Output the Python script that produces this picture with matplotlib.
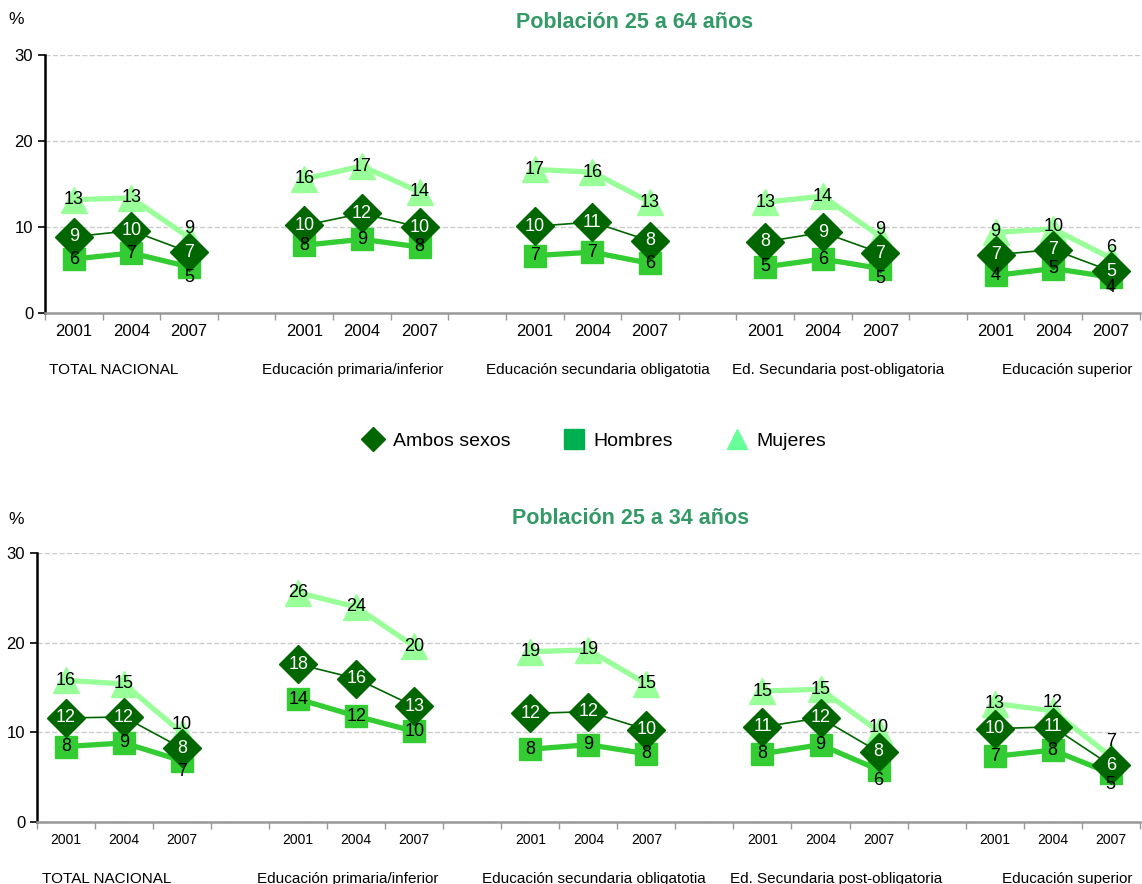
import numpy as np
import matplotlib.pyplot as plt
from matplotlib.lines import Line2D

plt.rcParams['font.family'] = ['Liberation Sans', 'DejaVu Sans']

# data
years = ['2001', '2004', '2007']
grupos = ['TOTAL NACIONAL', 'Educación primaria/inferior', 'Educación secundaria obligatotia',
          'Ed. Secundaria post-obligatoria', 'Educación superior']

# Población 25 a 64 años
ambos_64 = [8.9, 9.6, 7.1, 10.2, 11.6, 10.0, 10.1, 10.6, 8.4, 8.3, 9.4, 7.0, 6.8, 7.4, 4.9]
hombres_64 = [6.3, 7.0, 5.4, 7.9, 8.6, 7.7, 6.7, 7.1, 5.8, 5.4, 6.3, 5.2, 4.4, 5.2, 4.2]
mujeres_64 = [13.2, 13.4, 8.8, 15.6, 17.1, 14.1, 16.7, 16.4, 12.9, 12.9, 13.6, 8.9, 9.4, 9.8, 6.4]

# Población 25 a 34 años
ambos_34 = [11.6, 11.7, 8.2, 17.6, 16.0, 12.9, 12.1, 12.3, 10.3, 10.6, 11.6, 7.8, 10.4, 10.6, 6.3]
hombres_34 = [8.4, 8.8, 6.8, 13.7, 11.8, 10.1, 8.1, 8.6, 7.6, 7.6, 8.6, 5.8, 7.3, 8.0, 5.4]
mujeres_34 = [15.8, 15.4, 9.9, 25.6, 24.0, 19.6, 19.0, 19.2, 15.4, 14.6, 14.8, 10.1, 13.2, 12.4, 7.3]

c_ambos = '#006600'
c_hombres = '#33cc33'
c_mujeres = '#99ff99'


def draw_panel(ax, ambos, hombres, mujeres, year_size):
    n = len(years)
    for g in range(len(grupos)):
        xs = [g * (n + 1) + j for j in range(n)]
        sl = slice(g * n, g * n + n)
        ax.plot(xs, mujeres[sl], color=c_mujeres, lw=3.8, marker='^', ms=19,
                mec=c_mujeres, zorder=2)
        ax.plot(xs, hombres[sl], color=c_hombres, lw=3.8, marker='s', ms=16.5,
                mec=c_hombres, zorder=3)
        ax.plot(xs, ambos[sl], color=c_ambos, lw=1.2, marker='D', ms=19,
                mec=c_ambos, zorder=4)
        for x, a, h, m in zip(xs, ambos[sl], hombres[sl], mujeres[sl]):
            ax.text(x, a, f'{a:.0f}', color='white', fontsize=13, ha='center',
                    va='center', zorder=6)
            dy = -1.2 if a - h < 2.05 else 0
            ax.text(x, h + dy, f'{h:.0f}', color='black', fontsize=13, ha='center',
                    va='center', zorder=6)
            dy = max(0.0, 2.7 - (m - a))
            ax.text(x, m + dy, f'{m:.0f}', color='black', fontsize=13, ha='center',
                    va='center', zorder=6)

    total = len(grupos) * (n + 1) - 1
    ax.set_xlim(-0.5, total - 0.5)
    ax.set_ylim(0, 30)
    ax.set_yticks([0, 10, 20, 30])
    ax.tick_params(axis='y', labelsize=12, length=5, width=1.2, color='black')
    ax.set_xticks(np.arange(-0.5, total, 1.0))
    ax.set_xticklabels([])
    ax.tick_params(axis='x', which='major', length=5, width=1, color='#999999')
    minor = [g * (n + 1) + j for g in range(len(grupos)) for j in range(n)]
    ax.set_xticks(minor, minor=True)
    ax.set_xticklabels(years * len(grupos), minor=True, fontsize=year_size)
    ax.tick_params(axis='x', which='minor', length=0, pad=8)
    ax.grid(axis='y', ls='--', color='#cccccc', lw=1)
    ax.set_axisbelow(True)
    for s in ['top', 'right']:
        ax.spines[s].set_visible(False)
    ax.spines['left'].set_linewidth(1.8)
    ax.spines['bottom'].set_color('#999999')
    ax.spines['bottom'].set_linewidth(1.8)

    label_x = [0.7, 4.85, 9.1, 13.27, 17.25]
    for lx, name in zip(label_x, grupos):
        ax.annotate(name, xy=(lx, 0), xycoords=('data', 'axes fraction'),
                    xytext=(0, -41), textcoords='offset points',
                    ha='center', va='center', fontsize=11)


fig = plt.figure(figsize=(11.42, 8.84), dpi=100)
ax1 = fig.add_axes([0.0394, 0.6456, 0.9586, 0.2922])
ax2 = fig.add_axes([0.0324, 0.0705, 0.9656, 0.3036])

draw_panel(ax1, ambos_64, hombres_64, mujeres_64, 12)
draw_panel(ax2, ambos_34, hombres_34, mujeres_34, 10)

title_color = '#339966'
fig.text(0.556, 1 - 22 / 884, 'Población 25 a 64 años', ha='center', va='center',
         fontsize=15.5, fontweight='bold', color=title_color)
fig.text(0.552, 1 - 518 / 884, 'Población 25 a 34 años', ha='center', va='center',
         fontsize=15.5, fontweight='bold', color=title_color)
fig.text(0.014, 1 - 20 / 884, '%', fontsize=12.5, ha='center', va='center')
fig.text(0.014, 1 - 520 / 884, '%', fontsize=12.5, ha='center', va='center')

handles = [
    Line2D([], [], ls='none', marker='D', ms=12, color='#006600'),
    Line2D([], [], ls='none', marker='s', ms=14, color='#00b050'),
    Line2D([], [], ls='none', marker='^', ms=15, color='#66ff99'),
]
fig.legend(handles, ['Ambos sexos', 'Hombres', 'Mujeres'], loc='center',
           bbox_to_anchor=(0.521, 1 - 441 / 884), ncol=3, frameon=False,
           fontsize=14, handlelength=1, handletextpad=0.5, columnspacing=2.8)

fig.savefig('out.png', dpi=100)
